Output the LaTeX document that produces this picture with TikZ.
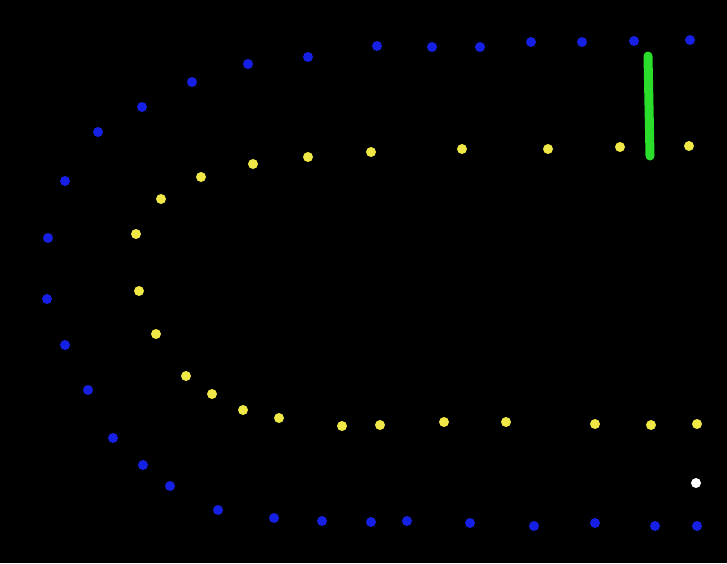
\documentclass[tikz,border=0pt]{standalone}
\usepackage{tikz}
\definecolor{dotblue}{RGB}{22,32,228}
\definecolor{dotyellow}{RGB}{240,232,70}
\definecolor{bargreen}{RGB}{44,222,44}
\tikzset{
  bluedot/.style={fill=dotblue},
  yellowdot/.style={fill=dotyellow},
  whitedot/.style={fill=white}
}
\begin{document}
\begin{tikzpicture}[x=1pt,y=-1pt]
\fill[black] (0,0) rectangle (727,563);
% outer ring
\fill[bluedot] (377,46) circle (5);
\fill[bluedot] (432,47) circle (5);
\fill[bluedot] (480,47) circle (5);
\fill[bluedot] (531,42) circle (5);
\fill[bluedot] (582,42) circle (5);
\fill[bluedot] (634,41) circle (5);
\fill[bluedot] (690,40) circle (5);
\fill[bluedot] (308,57) circle (5);
\fill[bluedot] (248,64) circle (5);
\fill[bluedot] (192,82) circle (5);
\fill[bluedot] (142,107) circle (5);
\fill[bluedot] (98,132) circle (5);
\fill[bluedot] (65,181) circle (5);
\fill[bluedot] (48,238) circle (5);
\fill[bluedot] (47,299) circle (5);
\fill[bluedot] (65,345) circle (5);
\fill[bluedot] (88,390) circle (5);
\fill[bluedot] (113,438) circle (5);
\fill[bluedot] (143,465) circle (5);
\fill[bluedot] (170,486) circle (5);
\fill[bluedot] (218,510) circle (5);
\fill[bluedot] (274,518) circle (5);
\fill[bluedot] (322,521) circle (5);
\fill[bluedot] (371,522) circle (5);
\fill[bluedot] (407,521) circle (5);
\fill[bluedot] (470,523) circle (5);
\fill[bluedot] (534,526) circle (5);
\fill[bluedot] (595,523) circle (5);
\fill[bluedot] (655,526) circle (5);
\fill[bluedot] (697,526) circle (5);
% inner ring
\fill[yellowdot] (689,146) circle (5);
\fill[yellowdot] (620,147) circle (5);
\fill[yellowdot] (548,149) circle (5);
\fill[yellowdot] (462,149) circle (5);
\fill[yellowdot] (371,152) circle (5);
\fill[yellowdot] (308,157) circle (5);
\fill[yellowdot] (253,164) circle (5);
\fill[yellowdot] (201,177) circle (5);
\fill[yellowdot] (161,199) circle (5);
\fill[yellowdot] (136,234) circle (5);
\fill[yellowdot] (139,291) circle (5);
\fill[yellowdot] (156,334) circle (5);
\fill[yellowdot] (186,376) circle (5);
\fill[yellowdot] (212,394) circle (5);
\fill[yellowdot] (243,410) circle (5);
\fill[yellowdot] (279,418) circle (5);
\fill[yellowdot] (342,426) circle (5);
\fill[yellowdot] (380,425) circle (5);
\fill[yellowdot] (444,422) circle (5);
\fill[yellowdot] (506,422) circle (5);
\fill[yellowdot] (595,424) circle (5);
\fill[yellowdot] (651,425) circle (5);
\fill[yellowdot] (697,424) circle (5);
% single white dot
\fill[whitedot] (696,483) circle (5);
% green bar
\draw[bargreen,line width=9,line cap=round] (648,56) -- (650,156);
\end{tikzpicture}
\end{document}
